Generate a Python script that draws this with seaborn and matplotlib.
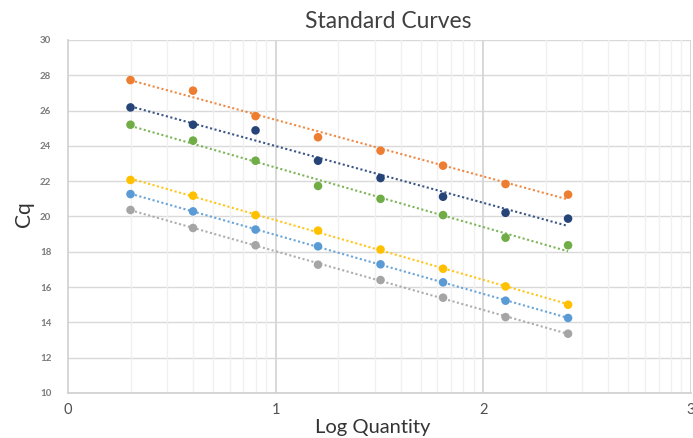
import numpy as np
import pandas as pd
import matplotlib
matplotlib.use("Agg")
import matplotlib.pyplot as plt
import seaborn as sns

log_quantity = [0.301, 0.602, 0.903, 1.204, 1.505, 1.806, 2.107, 2.408]
series_names = ["S1", "S2", "S3", "S4", "S5", "S6"]
cq_orange = [27.73, 27.13, 25.69, 24.49, 23.73, 22.88, 21.84, 21.24]
cq_navy = [26.18, 25.20, 24.88, 23.16, 22.18, 21.12, 20.21, 19.88]
cq_green = [25.20, 24.30, 23.16, 21.73, 21.00, 20.08, 18.80, 18.37]
cq_yellow = [22.07, 21.18, 20.08, 19.20, 18.13, 17.04, 16.04, 15.00]
cq_blue = [21.27, 20.29, 19.26, 18.31, 17.29, 16.27, 15.23, 14.25]
cq_gray = [20.37, 19.35, 18.37, 17.27, 16.40, 15.40, 14.30, 13.36]
colors = ["#ED7D31", "#264478", "#70AD47", "#FFC000", "#5B9BD5", "#A5A5A5"]
x_ticks = [0, 1, 2, 3]
y_ticks = [10, 12, 14, 16, 18, 20, 22, 24, 26, 28, 30]

all_series = [cq_orange, cq_navy, cq_green, cq_yellow, cq_blue, cq_gray]
df = pd.DataFrame({
    "Log Quantity": np.tile(log_quantity, len(all_series)),
    "Cq": np.concatenate(all_series),
    "series": np.repeat(series_names, len(log_quantity)),
})

sns.set_theme(style="white")
plt.rcParams["font.family"] = ["Lato", "DejaVu Sans"]

fig = plt.figure(figsize=(6.93, 4.38), dpi=100)
ax = fig.add_axes([68/693, 45/438, (691-68)/693, (393-40)/438])

# gridlines
for yv in y_ticks:
    ax.axhline(yv, color="#d9d9d9", lw=1.0, zorder=0)
for n in range(3):
    for k in range(2, 10):
        ax.axvline(n + np.log10(k), color="#f0f0f0", lw=1.0, zorder=0)
for xv in x_ticks[1:]:
    ax.axvline(xv, color="#d6d6d6", lw=1.3, zorder=0)

# trend lines
for name, c in zip(series_names, colors):
    sub = df[df["series"] == name]
    sns.regplot(data=sub, x="Log Quantity", y="Cq", ax=ax, scatter=False, ci=None,
                color=c, line_kws=dict(ls=(0, (1, 1.2)), lw=1.5, zorder=2, alpha=0.9))

sns.scatterplot(data=df, x="Log Quantity", y="Cq", hue="series", palette=colors,
                s=38, edgecolor="none", ax=ax, legend=False, zorder=3)

ax.set_xlim(0, 3)
ax.set_ylim(10, 30)
ax.set_xticks(x_ticks)
ax.set_yticks(y_ticks)
ax.set_xticklabels([str(v) for v in x_ticks], fontsize=10.5, color="#505050")
ax.set_yticklabels([str(v) for v in y_ticks], fontsize=7, color="#7a7a7a", fontweight="bold")
ax.tick_params(axis="x", length=0, pad=7)
ax.tick_params(axis="y", length=0, pad=12)
for side in ["left", "bottom"]:
    ax.spines[side].set_color("#cfcfcf")
    ax.spines[side].set_linewidth(1.2)
for side in ["top", "right"]:
    ax.spines[side].set_visible(False)

ax.set_xlabel("")
ax.set_ylabel("")
fig.text(373/693, 1 - 427/438, "Log Quantity", ha="center", va="center",
         fontsize=14.5, color="#333333")
fig.text(24/693, 1 - 214/438, "Cq", ha="center", va="center", rotation=90,
         fontsize=15, color="#333333")
fig.text(388/693, 1 - 21/438, "Standard Curves", ha="center", va="center",
         fontsize=16.5, color="#404040")

fig.savefig("out.png", dpi=100)
